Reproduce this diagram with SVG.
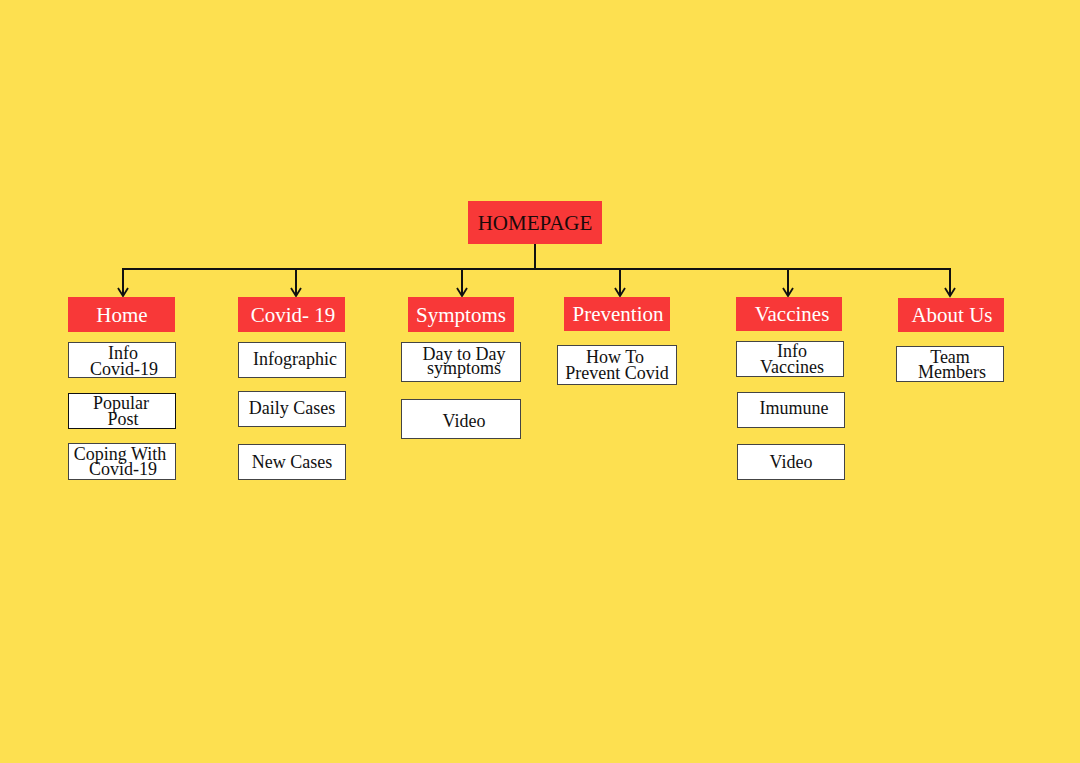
<svg xmlns="http://www.w3.org/2000/svg" width="1080" height="763" viewBox="0 0 1080 763">
<defs>
<marker id="chev" viewBox="-1 -1 11 12" refX="8" refY="5" markerWidth="11" markerHeight="12" markerUnits="userSpaceOnUse" orient="auto">
<path d="M0,0 L8,5 L0,10" fill="none" stroke="#111" stroke-width="1.8"/>
</marker>
<style>
.red{fill:#F83838}
.wb{fill:#ffffff;stroke:#444;stroke-width:1}
.rt{font-family:"Liberation Serif","Times New Roman",serif;font-size:21px;fill:#ffffff;text-anchor:middle}
.ht{font-family:"Liberation Serif","Times New Roman",serif;font-size:21px;fill:#1a0a0a;text-anchor:middle}
.wt{font-family:"Liberation Serif","Times New Roman",serif;font-size:18px;fill:#111;text-anchor:middle}
.ln{fill:none;stroke:#111;stroke-width:2}
</style>
</defs>
<rect width="1080" height="763" fill="#FDE050"/>
<g id="connectors">
<path class="ln" d="M535,243 V269 M122,269 H951"/>
<path class="ln" d="M123,269 V296" marker-end="url(#chev)"/>
<path class="ln" d="M296,269 V296" marker-end="url(#chev)"/>
<path class="ln" d="M462,269 V296" marker-end="url(#chev)"/>
<path class="ln" d="M620,269 V296" marker-end="url(#chev)"/>
<path class="ln" d="M788,269 V296" marker-end="url(#chev)"/>
<path class="ln" d="M950,269 V296" marker-end="url(#chev)"/>
</g>
<g id="homepage"><rect class="red" x="468" y="201" width="134" height="43"/><text class="ht" x="535" y="230">HOMEPAGE</text></g>
<g id="home"><rect class="red" x="68" y="297" width="107" height="35"/><text class="rt" x="122" y="322">Home</text></g>
<g id="covid19"><rect class="red" x="238" y="297" width="107" height="35"/><text class="rt" x="293" y="322">Covid- 19</text></g>
<g id="symptoms"><rect class="red" x="408" y="297" width="106" height="35"/><text class="rt" x="461" y="322">Symptoms</text></g>
<g id="prevention"><rect class="red" x="564" y="297" width="106" height="34"/><text class="rt" x="618" y="321">Prevention</text></g>
<g id="vaccines"><rect class="red" x="736" y="297" width="106" height="34"/><text class="rt" x="792" y="321">Vaccines</text></g>
<g id="aboutus"><rect class="red" x="898" y="298" width="106" height="34"/><text class="rt" x="952" y="322">About Us</text></g>

<g id="info-covid"><rect class="wb" x="68.5" y="342.5" width="107" height="35"/><text class="wt" x="123" y="359">Info</text><text class="wt" x="124" y="375">Covid-19</text></g>
<g id="popular-post"><rect class="wb" x="68.5" y="393.5" width="107" height="35" style="stroke:#111"/><text class="wt" x="121" y="409">Popular</text><text class="wt" x="123" y="425">Post</text></g>
<g id="coping"><rect class="wb" x="68.5" y="443.5" width="107" height="36"/><text class="wt" x="120" y="460">Coping With</text><text class="wt" x="123" y="475">Covid-19</text></g>

<g id="infographic"><rect class="wb" x="238.5" y="342.5" width="107" height="35"/><text class="wt" x="295" y="365">Infographic</text></g>
<g id="daily-cases"><rect class="wb" x="238.5" y="391.5" width="107" height="35"/><text class="wt" x="292" y="414">Daily Cases</text></g>
<g id="new-cases"><rect class="wb" x="238.5" y="444.5" width="107" height="35"/><text class="wt" x="292" y="468">New Cases</text></g>

<g id="day-to-day"><rect class="wb" x="401.5" y="342.5" width="119" height="39"/><text class="wt" x="464" y="360">Day to Day</text><text class="wt" x="464" y="374">symptoms</text></g>
<g id="symptoms-video"><rect class="wb" x="401.5" y="399.5" width="119" height="39"/><text class="wt" x="464" y="427">Video</text></g>

<g id="how-to-prevent"><rect class="wb" x="557.5" y="345.5" width="119" height="39"/><text class="wt" x="615" y="363">How To</text><text class="wt" x="617" y="379">Prevent Covid</text></g>

<g id="info-vaccines"><rect class="wb" x="736.5" y="341.5" width="107" height="35"/><text class="wt" x="792" y="357">Info</text><text class="wt" x="792" y="373">Vaccines</text></g>
<g id="imumune"><rect class="wb" x="737.5" y="392.5" width="107" height="35"/><text class="wt" x="794" y="414">Imumune</text></g>
<g id="vaccines-video"><rect class="wb" x="737.5" y="444.5" width="107" height="35"/><text class="wt" x="791" y="468">Video</text></g>

<g id="team-members"><rect class="wb" x="896.5" y="346.5" width="107" height="35"/><text class="wt" x="950" y="363">Team</text><text class="wt" x="952" y="378">Members</text></g>
</svg>
